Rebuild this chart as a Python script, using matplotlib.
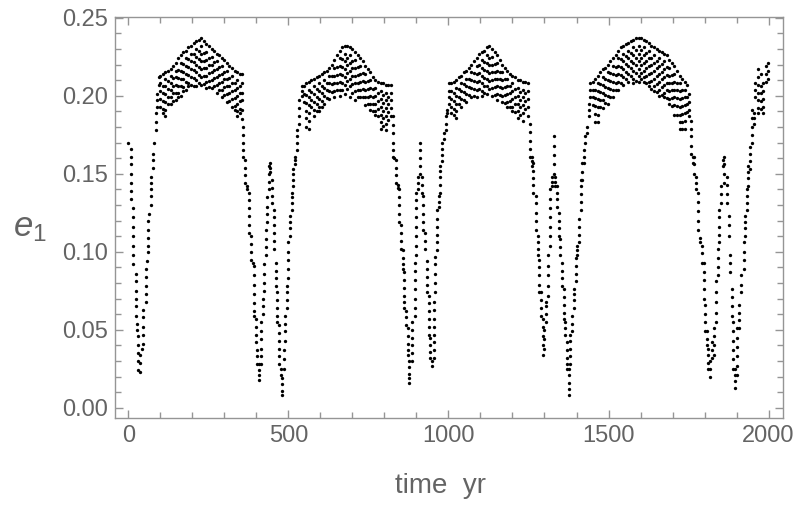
import matplotlib
matplotlib.use("Agg")
import matplotlib.pyplot as plt
from matplotlib.ticker import MultipleLocator

# e_1, grouped by time column: (time in yr, [e values in that column])
dip_1 = [
    (0, [.170]),
    (7, [.166, .161, .156, .150]),
    (9, [.144, .139, .134]),
    (16, [.128, .122, .116, .110, .104, .098, .092]),
    (23, [.086, .081, .075, .070, .065, .059]),
    (28, [.054, .050]),
    (31, [.046, .040, .035, .030, .024]),
    (37, [.023, .029, .034]),
    (43, [.038]),
    (47, [.041, .047, .052, .058, .063]),
    (54, [.068, .073, .078, .084, .089]),
    (58, [.094]),
    (62, [.100, .104, .109, .114, .120]),
    (65, [.124]),
    (70, [.130, .136, .140, .144, .148]),
    (76, [.154, .159, .163]),
    (81, [.170]),
    (87, [.178, .183, .189]),
    (91, [.193, .197, .201]),
    (96, [.207, .212]),
]

band_1 = [
    (100, [.213, .208, .203, .198, .193]),
    (108, [.214, .2065, .2015, .1965, .1915, .189]),
    (116, [.215, .211, .206, .201, .196, .191, .187]),
    (124, [.216, .2095, .2045, .1995, .1945]),
    (132, [.217, .213, .208, .204, .199, .195]),
    (140, [.219, .2115, .2065, .2015, .1965]),
    (148, [.221, .216, .212, .207, .202, .197]),
    (156, [.224, .2165, .2115, .2065, .2015, .199]),
    (164, [.226, .221, .216, .211, .206, .200]),
    (172, [.228, .2205, .2155, .2105, .2055, .203]),
    (180, [.229, .224, .219, .214, .209, .204]),
    (188, [.231, .2235, .2185, .2135, .2085, .206]),
    (196, [.232, .227, .222, .217, .212, .207]),
    (204, [.234, .2265, .2215, .2165, .2115, .2065]),
    (212, [.235, .230, .225, .220, .215, .210, .206]),
    (220, [.236, .2285, .2235, .2185, .2135, .2085]),
    (228, [.237, .232, .227, .222, .217, .212, .207]),
    (236, [.235, .2275, .2225, .2175, .2125, .2075]),
    (244, [.233, .228, .223, .218, .213, .209, .205]),
    (252, [.232, .2245, .2195, .2145, .2095, .2055]),
    (260, [.230, .225, .220, .215, .210, .205]),
    (268, [.229, .2215, .2165, .2115, .2065]),
    (276, [.227, .222, .217, .212, .207, .202]),
    (284, [.226, .2185, .2135, .2085, .2035]),
    (292, [.224, .219, .214, .209, .204, .199]),
    (300, [.223, .2155, .2105, .2055, .2005]),
    (308, [.221, .216, .211, .206, .201, .196]),
    (316, [.219, .2115, .2065, .2015, .1965]),
    (324, [.218, .213, .208, .203, .198, .193]),
    (332, [.216, .2085, .2035, .1985, .1935, .191]),
    (340, [.215, .210, .205, .200, .195, .190, .187]),
    (348, [.214, .2065, .2015, .1965, .1915, .189]),
]

dip_2 = [
    (354, [.214, .208, .202, .197, .191, .185]),
    (358, [.180, .175, .170, .165, .161]),
    (364, [.159, .154, .149, .144]),
    (371, [.142, .140]),
    (377, [.138, .133, .128, .123, .117, .112]),
    (382, [.110, .105, .100, .095]),
    (388, [.093]),
    (393, [.091, .085, .079, .073, .067, .062, .059]),
    (398, [.057, .052, .047, .042]),
    (403, [.037, .033, .028]),
    (408, [.028, .024, .021, .018]),
    (416, [.028, .033, .038, .044, .049, .055]),
    (422, [.060, .065, .070]),
    (425, [.075, .080, .086, .092]),
    (429, [.098, .103, .108, .114]),
    (433, [.119, .124, .129, .135]),
    (438, [.140, .145, .150, .155]),
    (443, [.157, .154, .151]),
    (448, [.146, .141, .136, .131]),
    (454, [.127, .122, .117, .112, .107, .102]),
    (460, [.093, .088, .083, .078]),
    (465, [.074, .069, .064, .059, .055]),
    (470, [.053, .048, .043, .038, .033, .028]),
    (476, [.025, .021]),
    (480, [.019, .015, .011, .008]),
    (485, [.025, .031, .037]),
    (490, [.043, .049, .054, .059]),
    (495, [.064, .069, .074, .078]),
    (500, [.083, .089, .095, .100, .106]),
    (506, [.110, .115, .119, .123]),
    (511, [.127, .131, .135, .138]),
    (516, [.142, .146, .150, .153]),
    (521, [.156, .159, .161]),
    (527, [.165, .170, .174, .178]),
    (534, [.182, .187, .192, .197]),
    (542, [.200, .203, .206]),
]

band_2 = [
    (548, [.206, .201, .196]),
    (556, [.208, .2005, .1955, .1905, .1855, .180]),
    (564, [.209, .204, .199, .194, .189, .184, .179]),
    (572, [.210, .2025, .1975, .1925]),
    (580, [.211, .206, .201, .196, .191, .187]),
    (588, [.212, .2045, .1995, .1945, .190]),
    (596, [.213, .208, .203, .198, .193, .190]),
    (604, [.214, .2065, .2015, .1965, .1925]),
    (612, [.215, .210, .205, .200, .195]),
    (620, [.216, .2085, .2035, .1985]),
    (628, [.218, .213, .208, .203, .198]),
    (636, [.220, .2125, .2075, .2025]),
    (644, [.223, .218, .213, .208, .203, .199]),
    (652, [.226, .2185, .2135, .2085, .2035]),
    (660, [.229, .224, .219, .214, .209, .204, .200]),
    (668, [.231, .2235, .2185, .2135, .2085, .2035]),
    (676, [.232, .227, .222, .217, .212, .207, .201]),
    (684, [.232, .2245, .2195, .2145, .2095, .2045]),
    (692, [.231, .226, .221, .216, .211, .206, .199]),
    (700, [.230, .2225, .2175, .2125, .2075, .2015]),
    (708, [.228, .223, .218, .213, .208, .203, .197]),
    (716, [.226, .2185, .2135, .2085, .2035, .199]),
    (724, [.224, .219, .214, .209, .204, .199]),
    (732, [.222, .2145, .2095, .2045, .1995]),
    (740, [.219, .214, .209, .204, .199, .194]),
    (748, [.217, .2095, .2045, .1995, .1945]),
    (756, [.215, .210, .205, .200, .195, .191]),
    (764, [.212, .2045, .1995, .1945, .1905]),
    (772, [.210, .205, .200, .195, .190, .188]),
    (780, [.209, .2015, .1965, .1915, .187]),
    (788, [.208, .203, .198, .193, .188, .183, .179]),
    (796, [.208, .2005, .1955, .1905, .1855, .1805]),
    (804, [.207, .202, .197, .192, .187, .182, .178]),
    (812, [.207, .1995, .1945, .1895, .1845]),
    (820, [.207, .202, .197, .192, .187]),
]

dip_3 = [
    (826, [.187, .181, .176, .170, .165, .161]),
    (831, [.160]),
    (836, [.159, .154, .149, .144]),
    (842, [.143, .141]),
    (847, [.140, .135, .130, .124, .119]),
    (852, [.117, .112, .107, .102]),
    (857, [.101, .096, .092, .089]),
    (862, [.087, .082, .077, .072, .068, .064]),
    (868, [.062, .058, .053]),
    (873, [.051, .046, .041, .037, .034]),
    (878, [.030, .026, .022, .019, .016]),
    (885, [.030, .035, .040, .045, .050, .055]),
    (894, [.059, .064, .070, .076, .082, .088, .093]),
    (899, [.098, .104, .110, .116, .122, .128, .133, .138]),
    (904, [.140, .144, .148]),
    (911, [.150, .155, .160, .165, .170]),
    (918, [.148, .143, .138]),
    (922, [.136, .130, .124, .119, .114]),
    (927, [.112, .107, .102]),
    (932, [.094, .089, .084, .079, .074]),
    (938, [.072, .067, .062, .057, .052, .047]),
    (943, [.045, .040, .036, .032]),
    (948, [.030, .027]),
    (954, [.032, .037, .042, .047, .052, .057, .063, .068]),
    (959, [.074, .080, .086, .092, .097]),
    (965, [.101, .106, .111, .116, .121, .127]),
    (970, [.129, .132, .136]),
    (975, [.138, .143, .148, .152, .155]),
    (980, [.158, .162, .166, .170]),
    (985, [.172, .176]),
    (991, [.178, .182, .187]),
    (996, [.189, .191]),
    (1001, [.195, .199, .203, .208]),
]

band_3 = [
    (1008, [.208, .203, .198, .193, .189]),
    (1016, [.209, .2015, .1965, .1915, .1875]),
    (1024, [.210, .205, .200, .195, .190, .186]),
    (1032, [.212, .2045, .1995, .1945]),
    (1040, [.213, .208, .203, .198, .193]),
    (1048, [.215, .2075, .2025, .1975]),
    (1056, [.216, .211, .206, .201, .196]),
    (1064, [.218, .2105, .2055, .2005]),
    (1072, [.220, .215, .210, .205, .199]),
    (1080, [.222, .2145, .2095, .2045, .200]),
    (1088, [.224, .219, .214, .209, .204, .199]),
    (1096, [.227, .2195, .2145, .2095, .2045]),
    (1104, [.228, .223, .218, .213, .208, .203, .200]),
    (1112, [.229, .2215, .2165, .2115, .2065, .2015]),
    (1120, [.231, .226, .221, .216, .211, .206, .201]),
    (1128, [.232, .2245, .2195, .2145, .2095, .2045]),
    (1136, [.230, .225, .220, .215, .210, .205, .200]),
    (1144, [.228, .2205, .2155, .2105, .2055, .2005]),
    (1152, [.226, .221, .216, .211, .206, .201, .197]),
    (1160, [.223, .2155, .2105, .2055, .2005]),
    (1168, [.220, .215, .210, .205, .200, .196]),
    (1176, [.218, .2105, .2055, .2005, .1955]),
    (1184, [.216, .211, .206, .201, .196, .193]),
    (1192, [.214, .2065, .2015, .1965, .193]),
    (1200, [.213, .208, .203, .198, .193, .190]),
    (1208, [.212, .2045, .1995, .1945, .1895]),
    (1216, [.210, .205, .200, .195, .190, .186]),
    (1224, [.210, .2025, .1975, .1925, .1875]),
    (1232, [.209, .204, .199, .194, .189, .184]),
    (1240, [.209, .2015, .1965, .1915]),
]

dip_4 = [
    (1247, [.208, .203, .198, .193, .187]),
    (1254, [.182, .177, .171, .166, .161]),
    (1260, [.161, .158, .155]),
    (1265, [.157, .152, .147, .143, .138]),
    (1273, [.136, .131, .125, .120, .114]),
    (1279, [.110, .106, .102, .098]),
    (1284, [.095, .090, .085, .079, .074]),
    (1289, [.074, .069, .064, .059]),
    (1294, [.057, .052, .046, .040, .034]),
    (1299, [.038, .044, .050]),
    (1305, [.055, .060, .065, .068]),
    (1312, [.072, .078, .085, .091, .098]),
    (1318, [.104, .110, .116, .122, .128, .134, .140]),
    (1324, [.142, .145, .148]),
    (1329, [.150, .156, .162, .168, .174]),
    (1334, [.148, .145, .142]),
    (1339, [.142, .138, .134, .129]),
    (1344, [.125, .120, .115, .110]),
    (1350, [.108, .103, .098]),
    (1355, [.093, .088, .083, .078]),
    (1360, [.076, .071, .066, .061, .057]),
    (1365, [.055, .051, .047]),
    (1371, [.042, .037, .032, .028, .025]),
    (1376, [.025, .021, .016, .012, .008]),
    (1381, [.028, .033, .038, .043, .047]),
    (1386, [.049, .054, .059]),
    (1392, [.064, .069, .073, .076]),
    (1397, [.081, .086, .091, .096]),
    (1402, [.098, .101, .104]),
    (1407, [.106, .111, .116, .121]),
    (1413, [.127, .132, .137, .142, .146]),
    (1418, [.146, .151, .157]),
    (1423, [.157, .161, .165]),
    (1428, [.170, .174]),
    (1433, [.176, .180]),
    (1438, [.187, .191, .195]),
    (1443, [.199, .204, .208]),
]

band_4 = [
    (1450, [.209, .204, .199, .194]),
    (1458, [.211, .2035, .1985, .1935, .1885, .1835]),
    (1466, [.213, .208, .203, .198, .193, .188, .183]),
    (1474, [.215, .2075, .2025, .1975, .1925]),
    (1482, [.217, .212, .207, .202, .197, .192]),
    (1490, [.218, .2105, .2055, .2005, .1955]),
    (1498, [.220, .215, .210, .205, .200, .195]),
    (1506, [.222, .2145, .2095, .2045, .1995]),
    (1514, [.224, .219, .214, .209, .204, .199]),
    (1522, [.226, .2185, .2135, .2085, .2035]),
    (1530, [.229, .224, .219, .214, .209, .204]),
    (1538, [.231, .2235, .2185, .2135, .2085]),
    (1546, [.232, .227, .222, .217, .212, .207]),
    (1554, [.233, .2255, .2205, .2155, .2105]),
    (1562, [.234, .229, .224, .219, .214, .209]),
    (1570, [.235, .2275, .2225, .2175, .2125]),
    (1578, [.236, .231, .226, .221, .216, .211, .208]),
    (1586, [.237, .2295, .2245, .2195, .2145, .2095]),
    (1594, [.237, .232, .227, .222, .217, .213, .209]),
    (1602, [.237, .2295, .2245, .2195, .2145, .2105]),
    (1610, [.236, .231, .226, .221, .216, .212, .209]),
    (1618, [.235, .2275, .2225, .2175, .2125, .2085]),
    (1626, [.234, .229, .224, .219, .214, .209, .206]),
    (1634, [.232, .2245, .2195, .2145, .2095, .2045]),
    (1642, [.231, .226, .221, .216, .211, .206, .203]),
    (1650, [.230, .2225, .2175, .2125, .2075, .2025]),
    (1658, [.229, .224, .219, .214, .209, .204, .200]),
    (1666, [.228, .2205, .2155, .2105, .2055, .2005]),
    (1674, [.227, .222, .217, .212, .207, .202, .199]),
    (1682, [.226, .2185, .2135, .2085, .2035, .1985]),
    (1690, [.223, .218, .213, .208, .203, .198, .195]),
    (1698, [.221, .2135, .2085, .2035, .1985, .1935]),
    (1706, [.219, .214, .209, .204, .199, .194, .188]),
    (1714, [.216, .2085, .2035, .1985, .1935, .1875]),
    (1722, [.213, .208, .203, .198, .193, .188, .183, .179]),
    (1730, [.211, .2035, .1985, .1935, .1885, .1835, .1785]),
    (1738, [.209, .204, .199, .194, .189, .184, .179]),
    (1746, [.207, .1995, .1945, .1895]),
]

dip_5 = [
    (1752, [.201, .196, .191, .187]),
    (1758, [.184, .179, .174, .168, .163]),
    (1763, [.161, .157]),
    (1768, [.161, .156, .150]),
    (1773, [.148, .144, .140]),
    (1781, [.138, .132, .126, .120, .114]),
    (1786, [.109, .106]),
    (1791, [.104, .099, .093]),
    (1798, [.093, .087, .082, .076, .070]),
    (1801, [.066, .060, .055, .049]),
    (1807, [.049, .044, .040]),
    (1812, [.038, .034, .029, .025]),
    (1817, [.030, .025, .020]),
    (1823, [.032, .037, .042]),
    (1830, [.034, .040, .046, .051]),
    (1836, [.055, .061, .068, .074, .081]),
    (1841, [.085, .090, .096, .102]),
    (1846, [.106, .111, .116, .122, .127]),
    (1852, [.131, .137, .142]),
    (1857, [.155, .159]),
    (1862, [.161, .156, .150, .144]),
    (1869, [.148, .143, .137, .131]),
    (1875, [.123, .117, .110]),
    (1880, [.098, .093, .087]),
    (1885, [.076, .071, .065, .059]),
    (1890, [.055, .049, .043, .037, .031, .025]),
    (1895, [.025, .021, .017, .013]),
    (1901, [.021, .027, .033, .039, .045, .051]),
    (1909, [.051, .056, .061, .066]),
    (1915, [.074, .079, .085]),
    (1922, [.089, .095, .100, .106]),
    (1927, [.110, .115, .119, .123]),
    (1932, [.127, .131, .136, .140]),
    (1937, [.142, .147, .151, .155]),
    (1942, [.153, .158, .163, .167]),
    (1948, [.170, .175, .180, .186, .191]),
    (1953, [.182, .186, .189]),
    (1958, [.199, .204, .208]),
    (1966, [.217, .212, .207, .202, .197, .192, .189]),
    (1976, [.214, .2065, .2015, .1965, .1915]),
    (1984, [.208, .203, .198, .193, .189]),
    (1992, [.219, .214, .209]),
    (1998, [.221, .216, .211]),
]

x_ticks = [0, 500, 1000, 1500, 2000]
y_ticks = [0.00, 0.05, 0.10, 0.15, 0.20, 0.25]

gray = "#646464"
frame_gray = "#959595"

plt.rcParams["font.family"] = ["Liberation Sans", "DejaVu Sans"]
plt.rcParams["mathtext.fontset"] = "custom"
plt.rcParams["mathtext.rm"] = "Liberation Sans"
plt.rcParams["mathtext.it"] = "Liberation Sans:italic"

fig = plt.figure(figsize=(7.97, 5.11), dpi=100)
ax = fig.add_axes([115 / 797, 1 - 418 / 511, (783 - 115) / 797, (418 - 17) / 511])

times, values = [], []
for segment in [dip_1, band_1, dip_2, band_2, dip_3, band_3, dip_4, band_4, dip_5]:
    for t, es in segment:
        for e in es:
            times.append(t)
            values.append(e)

ax.plot(times, values, linestyle="none", marker="o", ms=2.4, mfc="black", mec="black", mew=0)

ax.set_xlim(-41.5, 2045)
ax.set_ylim(-0.0065, 0.2505)

ax.set_xticks(x_ticks)
ax.set_xticklabels([str(v) for v in x_ticks])
ax.set_yticks(y_ticks)
ax.set_yticklabels([f"{v:.2f}" for v in y_ticks])
ax.xaxis.set_minor_locator(MultipleLocator(100))
ax.yaxis.set_minor_locator(MultipleLocator(0.01))

ax.tick_params(which="both", direction="in", top=True, right=True, colors=frame_gray,
               labelcolor=gray, labelsize=17, width=1)
ax.tick_params(which="major", length=6, pad=5)
ax.tick_params(which="minor", length=4)
for side in ax.spines.values():
    side.set_color(frame_gray)
    side.set_linewidth(1)

ax.set_xlabel("time  yr", fontsize=20, color=gray, va="center")
ax.xaxis.set_label_coords(0.488, -0.17)
ax.set_ylabel(r"$e_1$", fontsize=25, color=gray, rotation=0, ha="center", va="center")
ax.yaxis.set_label_coords(-0.127, 0.475)

fig.savefig("out.png", dpi=100)
